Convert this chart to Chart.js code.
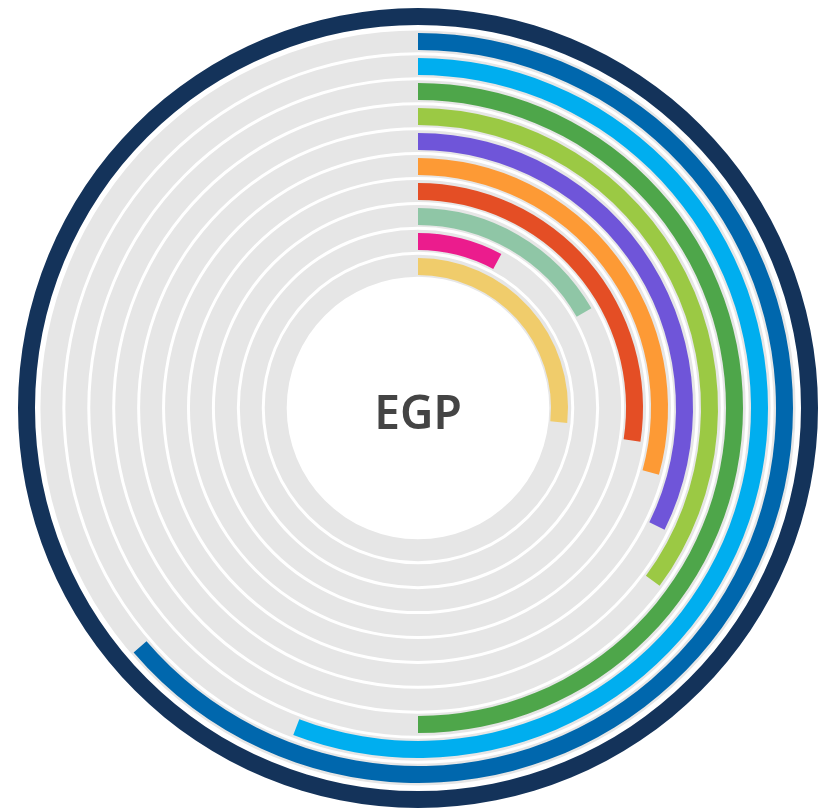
<!DOCTYPE html>
<html>
<head>
<meta charset="utf-8">
<script src="https://cdn.jsdelivr.net/npm/chart.js@4.4.1/dist/chart.umd.min.js"></script>
<style>
  html, body { margin: 0; padding: 0; background: #fff; }
  #wrap { position: relative; width: 828px; height: 808px; }
  #wrap canvas { position: absolute; left: 0; top: 0; }
  #label {
    position: absolute; left: 318px; top: 381px; width: 200px; height: 60px;
    line-height: 60px; text-align: center;
    font-family: "Noto Sans", "Open Sans", sans-serif; font-weight: 600;
    font-size: 46px; color: #444;
  }
</style>
</head>
<body>
<div id="wrap">
  <canvas id="track" width="828" height="808"></canvas>
  <canvas id="bars" width="828" height="808"></canvas>
  <div id="label">EGP</div>
</div>
<script>
// rings from outside to inside
const series = ['Navy', 'Blue', 'Cyan', 'Green', 'Lime', 'Purple', 'Orange', 'Red', 'Teal', 'Pink', 'Yellow'];
const values = [100, 63.7, 55.8, 50, 35.1, 32.3, 29.3, 27.4, 16.7, 7.9, 26.6];
const colors = ['#14335a', '#0067ad', '#00aeef', '#4ea64a', '#9bc944', '#6f55d9', '#fd9a35', '#e44e25', '#8fc6a6', '#eb1c8d', '#f0cc6b'];
const trackColor = '#e6e6e6';

function buildSets(ringWeight, gapWeight, ringData) {
  const sets = [];
  series.forEach((name, i) => {
    if (i > 0) sets.push({ data: [100], backgroundColor: ['rgba(0,0,0,0)'], weight: gapWeight, borderWidth: 0 });
    sets.push(Object.assign({ label: name, weight: ringWeight, borderWidth: 0 }, ringData(i)));
  });
  return sets;
}

const common = {
  responsive: false,
  devicePixelRatio: 1,
  animation: false,
  layout: { padding: { left: 8, top: 8 } },
  plugins: { legend: { display: false }, tooltip: { enabled: false } },
  events: []
};

// gray tracks: slightly wider than the coloured arcs, same centre lines
new Chart(document.getElementById('track'), {
  type: 'doughnut',
  data: {
    labels: ['track'],
    datasets: buildSets(22, 3, i => ({
      data: [100],
      backgroundColor: [i === 0 ? 'rgba(0,0,0,0)' : trackColor]
    }))
  },
  options: Object.assign({}, common, { cutout: 130.5, radius: 402.5 })
});

new Chart(document.getElementById('bars'), {
  type: 'doughnut',
  data: {
    labels: ['value', 'rest'],
    datasets: buildSets(17, 8, i => ({
      data: [values[i], 100 - values[i]],
      backgroundColor: [colors[i], 'rgba(0,0,0,0)']
    }))
  },
  options: Object.assign({}, common, { cutout: 133, radius: 400 })
});
</script>
</body>
</html>
